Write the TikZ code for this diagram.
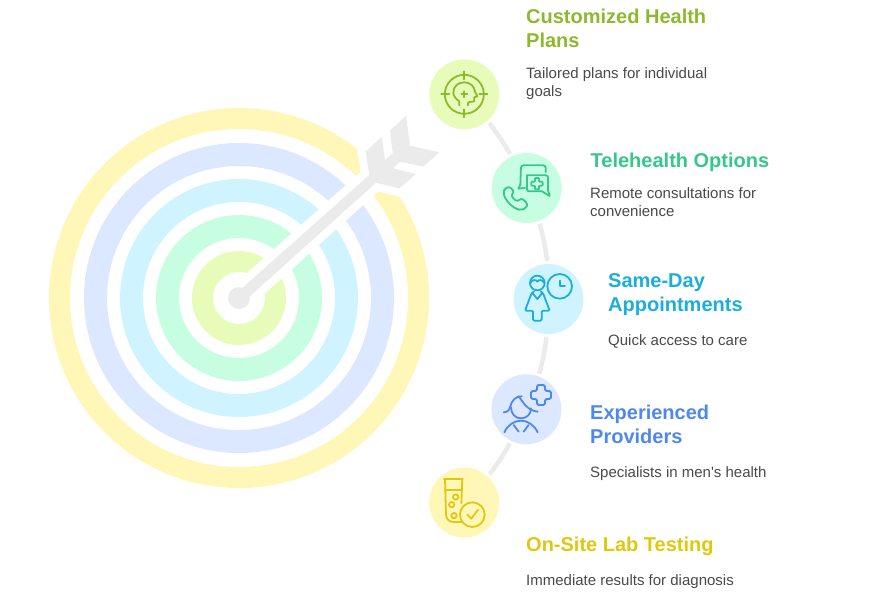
\documentclass[tikz,border=0pt]{standalone}
\usepackage{fontspec}
\setmainfont{Liberation Sans}
\newfontfamily\descfont{Liberation Sans}
\definecolor{cA}{HTML}{E7FCB9}\definecolor{sA}{HTML}{8DB92E}
\definecolor{cB}{HTML}{C7FEE2}\definecolor{sB}{HTML}{35C88A}
\definecolor{cC}{HTML}{D0F4FF}\definecolor{sC}{HTML}{1AAEDF}
\definecolor{cD}{HTML}{DCE8FF}\definecolor{sD}{HTML}{4F88EC}
\definecolor{cE}{HTML}{FFF7B8}\definecolor{sE}{HTML}{E0C80F}
\definecolor{gA}{HTML}{EBEBEB}\definecolor{descc}{HTML}{4A4A4A}
\tikzset{
 ring/.style={draw=#1,fill=none},
 stepdisc/.style={circle,fill=#1,minimum size=70pt,inner sep=0pt,outer sep=3pt},
 conn/.style={draw=gA,line width=4.5pt},
 ttl/.style={anchor=north west,inner sep=0pt,align=left,font=\fontsize{20}{24}\selectfont\bfseries,text=#1},
 dsc/.style={anchor=north west,inner sep=0pt,align=left,font=\descfont\fontsize{15}{18}\selectfont,text=descc},
 ico/.style={draw=#1,line width=1.8pt,line join=round,line cap=round,fill=none}
}
\begin{document}
\begin{tikzpicture}[x=1pt,y=-1pt]
\useasboundingbox[fill=white] (0,0) rectangle (875,596);
% target
\coordinate (tc) at (239,298);
\draw[ring=cE,line width=21pt] (tc) circle[radius=179.5];
\draw[ring=cD,line width=23pt] (tc) circle[radius=143.5];
\draw[ring=cC,line width=23pt] (tc) circle[radius=107.5];
\draw[ring=cB,line width=23pt] (tc) circle[radius=71.5];
\draw[ring=cA,line width=21pt] (tc) circle[radius=36.5];
% arrow
\def\arrowpath{(365.7,151.7) -- (381.7,136.7) -- (385,160) -- (392.7,153.3) -- (390,130.7) -- (406,115.7) -- (410,145.7) -- (439.3,152.3) -- (423.3,166.7) -- (400,161.7) -- (392.7,168.3) -- (416,174) -- (399.3,188.3) -- (376,182.7) -- (243,302.5) -- (235.5,294) -- (369.3,175) -- cycle}
\draw[white,line width=16pt,miter limit=10] \arrowpath;
\fill[gA] \arrowpath;
\fill[gA] (tc) circle[radius=11];
% steps
\node[stepdisc=cA] (n1) at (464.3,94.3) {};
\node[stepdisc=cB] (n2) at (526.7,188) {};
\node[stepdisc=cC] (n3) at (548.5,299) {};
\node[stepdisc=cD] (n4) at (526.4,409.3) {};
\node[stepdisc=cE] (n5) at (464.2,502.5) {};
\draw[conn] (n1.-49.6) to[bend left=3.5] (n2.116);
\draw[conn] (n2.-70.8) to[bend left=3.5] (n3.92.3);
\draw[conn] (n3.-93.9) to[bend left=3.5] (n4.70.3);
\draw[conn] (n4.-116.6) to[bend left=3.5] (n5.48.3);
% icon 1
\begin{scope}[shift={(464.3,94.3)}]
\draw[ico=sA] (0,0) circle[radius=19.5];
\draw[ico=sA] (-23,0)--(-15,0) (15,0)--(23,0) (0,-23)--(0,-15) (0,15)--(0,23);
\draw[ico=sA] (-3,0)--(3,0) (0,-3)--(0,3);
\draw[ico=sA] (-5,11) -- (-5,7) .. controls (-9,4.5) and (-11,1) .. (-11,-2) .. controls (-11,-8) and (-6,-12) .. (0,-12) .. controls (6,-12) and (10,-8) .. (10.5,-3) -- (13,2) -- (10,3) -- (10,7) -- (4,8) -- (3.5,11);
\end{scope}
% icon 2
\begin{scope}[shift={(497,158)},x=0.3333pt,y=-0.3333pt]
\draw[ico=sB,rounded corners=2.5pt] (146,42) -- (146,22) -- (72,22) -- (70,80);
\draw[ico=sB] (70,80) -- (64,92) -- (84,90);
\draw[ico=sB,rounded corners=2pt] (90,52) -- (153,52) -- (153,96);
\draw[ico=sB] (153,96) -- (158,114) -- (135,100);
\draw[ico=sB,rounded corners=2pt] (135,100) -- (90,100) -- (90,52);
\draw[ico=sB,rounded corners=0.8pt] (114,60) -- (126,60) -- (126,71) -- (137,71) -- (137,83) -- (126,83) -- (126,94) -- (114,94) -- (114,83) -- (103,83) -- (103,71) -- (114,71) -- cycle;
\draw[ico=sB,rounded corners=2.5pt] (35,85) -- (52,100) -- (42,112) .. controls (48,120) and (54,126) .. (62,131) -- (73,120) -- (92,137) -- (88,149) -- (74,156) .. controls (48,152) and (22,125) .. (20,100) -- (24,92) -- cycle;
\end{scope}
% icon 3
\begin{scope}[shift={(519,269)},x=0.3333pt,y=-0.3333pt]
\draw[ico=sC] (122,52) circle[radius=37];
\draw[ico=sC] (122,35) -- (122,52) -- (138,52);
\draw[ico=sC] (55,42) circle[radius=22];
\draw[ico=sC] (34,42) .. controls (40,32) and (50,30) .. (55,38) .. controls (60,30) and (70,32) .. (76,42);
\draw[ico=sC] (40,72) -- (55,90) -- (70,72);
\draw[ico=sC,rounded corners=1.2pt] (45,68) -- (38,72) -- (18,125) -- (42,125) -- (42,155) -- (68,155) -- (68,125) -- (92,125) -- (72,72) -- (65,68);
\end{scope}
% icon 4
\begin{scope}[shift={(497,379)},x=0.3333pt,y=-0.3333pt]
\draw[ico=sD,rounded corners=1.5pt] (120,18) -- (144,18) -- (144,36) -- (162,36) -- (162,60) -- (144,60) -- (144,78) -- (120,78) -- (120,60) -- (102,60) -- (102,36) -- (120,36) -- cycle;
\draw[ico=sD] (20,100) .. controls (32,100) and (38,92) .. (40,82) .. controls (44,64) and (56,52) .. (74,52);
\draw[ico=sD] (65,52) .. controls (76,66) and (90,95) .. (122,98);
\draw[ico=sD] (42,85) .. controls (42,105) and (55,118) .. (72,118) .. controls (90,118) and (102,105) .. (102,88);
\draw[ico=sD] (22,160) .. controls (32,138) and (52,125) .. (72,125) .. controls (92,125) and (112,138) .. (122,160);
\draw[ico=sD] (50,138) -- (65,158) (95,138) -- (80,158);
\end{scope}
% icon 5
\begin{scope}[shift={(434,473)},x=0.3333pt,y=-0.3333pt]
\draw[ico=sE] (30,17) -- (86,17);
\draw[ico=sE] (33,17) -- (36,125) .. controls (37,140) and (46,147) .. (60,147) -- (82,147);
\draw[ico=sE] (85,17) -- (82,90);
\draw[ico=sE] (35,50) -- (82,50);
\draw[ico=sE] (65,72) circle[radius=8];
\draw[ico=sE] (53,95) circle[radius=8];
\draw[ico=sE] (60,128) circle[radius=8];
\draw[ico=sE] (115,125) circle[radius=37];
\draw[ico=sE] (100,125) -- (112,137) -- (132,110);
\end{scope}
% texts
\node[ttl=sA] (t1) at (526,9) {Customized Health\\Plans};
\node[dsc] (d1) at (526,67.5) {Tailored plans for individual\\goals};
\node[ttl=sB] (t2) at (590.5,153) {Telehealth Options};
\node[dsc] (d2) at (590,187.5) {Remote consultations for\\convenience};
\node[ttl=sC] (t3) at (608,273) {Same-Day\\Appointments};
\node[dsc] (d3) at (608,334.5) {Quick access to care};
\node[ttl=sD] (t4) at (590,405) {Experienced\\Providers};
\node[dsc] (d4) at (590,466.5) {Specialists in men's health};
\node[ttl=sE] (t5) at (526,537) {On-Site Lab Testing};
\node[dsc] (d5) at (526,574.5) {Immediate results for diagnosis};
\end{tikzpicture}
\end{document}
